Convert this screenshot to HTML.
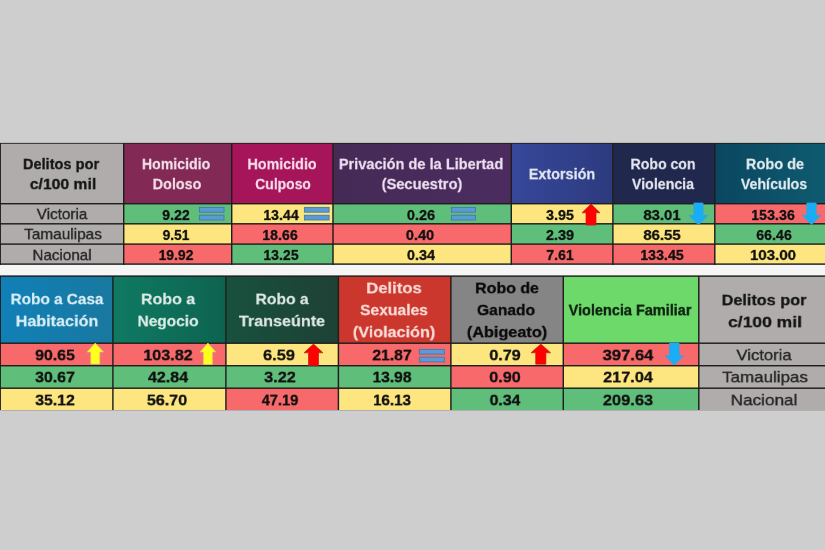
<!DOCTYPE html><html><head><meta charset="utf-8"><title>Delitos por c/100 mil</title><style>
html,body{margin:0;padding:0}
body{width:825px;height:550px;background:#cecece;position:relative;overflow:hidden;font-family:"Liberation Sans",sans-serif}
.r,.l,.t,.i{position:absolute}
.l{background:#2e2c2c}
.t{white-space:nowrap;line-height:1;will-change:transform;font-size:20px}
.b{font-weight:bold;-webkit-text-stroke:0.27px currentColor}
.g{-webkit-text-stroke:0.45px currentColor}
.k{-webkit-text-stroke:0.4px currentColor}
.gap{background:#f6f6f6}
</style></head><body>
<div class="r gap" style="left:0;top:264px;width:825px;height:13px"></div>
<div class="r" style="left:0.00px;top:143.40px;width:123.70px;height:60.30px;background:#b0acac"></div>
<div class="t b k" id="t0" style="left:61.36px;top:163.91px;color:#161616;transform:translate(-50%,-50%) scale(0.7297,0.7456)">Delitos por</div>
<div class="t b k" id="t1" style="left:63.30px;top:183.70px;color:#161616;transform:translate(-50%,-50%) scale(0.7861,0.7456)">c/100 mil</div>
<div class="r" style="left:123.70px;top:143.40px;width:108.00px;height:60.30px;background:#832955"></div>
<div class="t b" id="t2" style="left:176.36px;top:163.53px;color:#f3dfea;transform:translate(-50%,-50%) scale(0.7067,0.7456)">Homicidio</div>
<div class="t b" id="t3" style="left:177.41px;top:183.70px;color:#f3dfea;transform:translate(-50%,-50%) scale(0.7187,0.7456)">Doloso</div>
<div class="r" style="left:231.70px;top:143.40px;width:101.30px;height:60.30px;background:#a6145a"></div>
<div class="t b" id="t4" style="left:281.82px;top:163.53px;color:#f6dcea;transform:translate(-50%,-50%) scale(0.7150,0.7456)">Homicidio</div>
<div class="t b" id="t5" style="left:282.55px;top:183.70px;color:#f6dcea;transform:translate(-50%,-50%) scale(0.6969,0.7456)">Culposo</div>
<div class="r" style="left:333.00px;top:143.40px;width:178.30px;height:60.30px;background:linear-gradient(90deg,#452a56,#4c2c60)"></div>
<div class="t b" id="t6" style="left:421.41px;top:163.53px;color:#ecdff0;transform:translate(-50%,-50%) scale(0.7285,0.7456)">Privación de la Libertad</div>
<div class="t b" id="t7" style="left:421.71px;top:183.70px;color:#ecdff0;transform:translate(-50%,-50%) scale(0.7338,0.7456)">(Secuestro)</div>
<div class="r" style="left:511.30px;top:143.40px;width:101.60px;height:60.30px;background:linear-gradient(90deg,#37479a,#2c3b7e)"></div>
<div class="t b" id="t8" style="left:562.46px;top:174.45px;color:#e4e8f4;transform:translate(-50%,-50%) scale(0.7209,0.7456)">Extorsión</div>
<div class="r" style="left:612.90px;top:143.40px;width:101.90px;height:60.30px;background:#20284e"></div>
<div class="t b" id="t9" style="left:663.49px;top:163.53px;color:#e4e6ee;transform:translate(-50%,-50%) scale(0.7044,0.7456)">Robo con</div>
<div class="t b" id="t10" style="left:663.36px;top:183.70px;color:#e4e6ee;transform:translate(-50%,-50%) scale(0.7115,0.7456)">Violencia</div>
<div class="r" style="left:714.80px;top:143.40px;width:111.20px;height:60.30px;background:linear-gradient(90deg,#0b4660 0%,#0e5b70 100%)"></div>
<div class="t b" id="t11" style="left:775.08px;top:163.53px;color:#e0ecef;transform:translate(-50%,-50%) scale(0.7296,0.7456)">Robo de</div>
<div class="t b" id="t12" style="left:774.36px;top:183.70px;color:#e0ecef;transform:translate(-50%,-50%) scale(0.7106,0.7456)">Vehículos</div>
<div class="r" style="left:0.00px;top:203.70px;width:123.70px;height:20.10px;background:#b0acac"></div>
<div class="t g" id="t13" style="left:62.10px;top:214.28px;color:#242424;transform:translate(-50%,-50%) scale(0.7630,0.7464)">Victoria</div>
<div class="r" style="left:123.70px;top:203.70px;width:108.00px;height:20.10px;background:#60be7b"></div>
<div class="t b k" id="t14" style="left:175.54px;top:214.52px;color:#101010;transform:translate(-50%,-50%) scale(0.7112,0.6998)">9.22</div>
<div class="r" style="left:231.70px;top:203.70px;width:101.30px;height:20.10px;background:#fde67f"></div>
<div class="t b k" id="t15" style="left:280.67px;top:214.52px;color:#101010;transform:translate(-50%,-50%) scale(0.7079,0.6998)">13.44</div>
<div class="r" style="left:333.00px;top:203.70px;width:178.30px;height:20.10px;background:#60be7b"></div>
<div class="t b k" id="t16" style="left:420.53px;top:214.52px;color:#101010;transform:translate(-50%,-50%) scale(0.7261,0.6998)">0.26</div>
<div class="r" style="left:511.30px;top:203.70px;width:101.60px;height:20.10px;background:#fde67f"></div>
<div class="t b k" id="t17" style="left:560.18px;top:214.52px;color:#101010;transform:translate(-50%,-50%) scale(0.7177,0.6998)">3.95</div>
<div class="r" style="left:612.90px;top:203.70px;width:101.90px;height:20.10px;background:#60be7b"></div>
<div class="t b k" id="t18" style="left:662.00px;top:214.52px;color:#101010;transform:translate(-50%,-50%) scale(0.7422,0.6998)">83.01</div>
<div class="r" style="left:714.80px;top:203.70px;width:111.20px;height:20.10px;background:#f8696b"></div>
<div class="t b k" id="t19" style="left:773.35px;top:214.52px;color:#101010;transform:translate(-50%,-50%) scale(0.7157,0.6998)">153.36</div>
<div class="r" style="left:0.00px;top:223.80px;width:123.70px;height:20.30px;background:#b0acac"></div>
<div class="t g" id="t20" style="left:62.72px;top:234.49px;color:#242424;transform:translate(-50%,-50%) scale(0.7679,0.7461)">Tamaulipas</div>
<div class="r" style="left:123.70px;top:223.80px;width:108.00px;height:20.30px;background:#fde67f"></div>
<div class="t b k" id="t21" style="left:176.39px;top:234.73px;color:#101010;transform:translate(-50%,-50%) scale(0.6846,0.6998)">9.51</div>
<div class="r" style="left:231.70px;top:223.80px;width:101.30px;height:20.30px;background:#f8696b"></div>
<div class="t b k" id="t22" style="left:280.31px;top:234.73px;color:#101010;transform:translate(-50%,-50%) scale(0.7067,0.6998)">18.66</div>
<div class="r" style="left:333.00px;top:223.80px;width:178.30px;height:20.30px;background:#f8696b"></div>
<div class="t b k" id="t23" style="left:420.23px;top:234.73px;color:#101010;transform:translate(-50%,-50%) scale(0.7287,0.6998)">0.40</div>
<div class="r" style="left:511.30px;top:223.80px;width:101.60px;height:20.30px;background:#60be7b"></div>
<div class="t b k" id="t24" style="left:560.33px;top:234.73px;color:#101010;transform:translate(-50%,-50%) scale(0.7243,0.6998)">2.39</div>
<div class="r" style="left:612.90px;top:223.80px;width:101.90px;height:20.30px;background:#fde67f"></div>
<div class="t b k" id="t25" style="left:662.14px;top:234.73px;color:#101010;transform:translate(-50%,-50%) scale(0.7436,0.6998)">86.55</div>
<div class="r" style="left:714.80px;top:223.80px;width:111.20px;height:20.30px;background:#60be7b"></div>
<div class="t b k" id="t26" style="left:773.62px;top:234.73px;color:#101010;transform:translate(-50%,-50%) scale(0.7101,0.6998)">66.46</div>
<div class="r" style="left:0.00px;top:244.10px;width:123.70px;height:20.00px;background:#b0acac"></div>
<div class="t g" id="t27" style="left:62.25px;top:254.57px;color:#242424;transform:translate(-50%,-50%) scale(0.7589,0.7468)">Nacional</div>
<div class="r" style="left:123.70px;top:244.10px;width:108.00px;height:20.00px;background:#f8696b"></div>
<div class="t b k" id="t28" style="left:176.44px;top:254.94px;color:#101010;transform:translate(-50%,-50%) scale(0.6927,0.6998)">19.92</div>
<div class="r" style="left:231.70px;top:244.10px;width:101.30px;height:20.00px;background:#60be7b"></div>
<div class="t b k" id="t29" style="left:280.74px;top:254.94px;color:#101010;transform:translate(-50%,-50%) scale(0.7036,0.6998)">13.25</div>
<div class="r" style="left:333.00px;top:244.10px;width:178.30px;height:20.00px;background:#fde67f"></div>
<div class="t b k" id="t30" style="left:420.58px;top:254.94px;color:#101010;transform:translate(-50%,-50%) scale(0.7238,0.6998)">0.34</div>
<div class="r" style="left:511.30px;top:244.10px;width:101.60px;height:20.00px;background:#f8696b"></div>
<div class="t b k" id="t31" style="left:560.40px;top:254.94px;color:#101010;transform:translate(-50%,-50%) scale(0.7025,0.6998)">7.61</div>
<div class="r" style="left:612.90px;top:244.10px;width:101.90px;height:20.00px;background:#f8696b"></div>
<div class="t b k" id="t32" style="left:662.15px;top:254.94px;color:#101010;transform:translate(-50%,-50%) scale(0.7102,0.6998)">133.45</div>
<div class="r" style="left:714.80px;top:244.10px;width:111.20px;height:20.00px;background:#fde67f"></div>
<div class="t b k" id="t33" style="left:773.45px;top:254.94px;color:#101010;transform:translate(-50%,-50%) scale(0.7530,0.6998)">103.00</div>
<div class="r" style="left:0.00px;top:276.10px;width:112.90px;height:67.10px;background:linear-gradient(90deg,#1080b8,#19789f)"></div>
<div class="t b" id="t34" style="left:56.60px;top:299.10px;color:#d8eef6;transform:translate(-50%,-50%) scale(0.7668,0.7493)">Robo a Casa</div>
<div class="t b" id="t35" style="left:56.50px;top:321.15px;color:#d8eef6;transform:translate(-50%,-50%) scale(0.8090,0.7493)">Habitación</div>
<div class="r" style="left:112.90px;top:276.10px;width:113.00px;height:67.10px;background:linear-gradient(90deg,#0f7a62,#0d6350)"></div>
<div class="t b" id="t36" style="left:168.47px;top:299.10px;color:#dcece6;transform:translate(-50%,-50%) scale(0.7989,0.7493)">Robo a</div>
<div class="t b" id="t37" style="left:168.13px;top:321.15px;color:#dcece6;transform:translate(-50%,-50%) scale(0.7719,0.7493)">Negocio</div>
<div class="r" style="left:225.90px;top:276.10px;width:112.50px;height:67.10px;background:linear-gradient(90deg,#18513d,#1e4135)"></div>
<div class="t b" id="t38" style="left:281.73px;top:299.10px;color:#dde8e3;transform:translate(-50%,-50%) scale(0.7825,0.7493)">Robo a</div>
<div class="t b" id="t39" style="left:282.29px;top:321.15px;color:#dde8e3;transform:translate(-50%,-50%) scale(0.8075,0.7493)">Transeúnte</div>
<div class="r" style="left:338.40px;top:276.10px;width:112.50px;height:67.10px;background:#cb372c"></div>
<div class="t b" id="t40" style="left:394.22px;top:287.90px;color:#f8dcd8;transform:translate(-50%,-50%) scale(0.8353,0.7493)">Delitos</div>
<div class="t b" id="t41" style="left:394.46px;top:310.23px;color:#f8dcd8;transform:translate(-50%,-50%) scale(0.7831,0.7493)">Sexuales</div>
<div class="t b" id="t42" style="left:393.63px;top:331.73px;color:#f8dcd8;transform:translate(-50%,-50%) scale(0.8098,0.7493)">(Violación)</div>
<div class="r" style="left:450.90px;top:276.10px;width:112.40px;height:67.10px;background:#868585"></div>
<div class="t b k" id="t43" style="left:506.67px;top:287.90px;color:#0a0a0a;transform:translate(-50%,-50%) scale(0.7999,0.7493)">Robo de</div>
<div class="t b k" id="t44" style="left:506.30px;top:310.23px;color:#0a0a0a;transform:translate(-50%,-50%) scale(0.7807,0.7493)">Ganado</div>
<div class="t b k" id="t45" style="left:506.60px;top:331.73px;color:#0a0a0a;transform:translate(-50%,-50%) scale(0.8127,0.7493)">(Abigeato)</div>
<div class="r" style="left:563.30px;top:276.10px;width:135.50px;height:67.10px;background:#6dd96a"></div>
<div class="t b k" id="t46" style="left:630.11px;top:310.44px;color:#0c2010;transform:translate(-50%,-50%) scale(0.7233,0.7591)">Violencia Familiar</div>
<div class="r" style="left:698.80px;top:276.10px;width:127.20px;height:67.10px;background:#b0acac"></div>
<div class="t b k" id="t47" style="left:763.61px;top:300.10px;color:#161616;transform:translate(-50%,-50%) scale(0.8119,0.7493)">Delitos por</div>
<div class="t b k" id="t48" style="left:764.64px;top:322.31px;color:#161616;transform:translate(-50%,-50%) scale(0.8743,0.7493)">c/100 mil</div>
<div class="r" style="left:698.80px;top:343.20px;width:127.20px;height:22.50px;background:#b0acac"></div>
<div class="t g" id="t49" style="left:764.02px;top:354.61px;color:#242424;transform:translate(-50%,-50%) scale(0.8327,0.7561)">Victoria</div>
<div class="r" style="left:0.00px;top:343.20px;width:112.90px;height:22.50px;background:#f8696b"></div>
<div class="t b k" id="t50" style="left:55.48px;top:355.40px;color:#101010;transform:translate(-50%,-50%) scale(0.7917,0.7581)">90.65</div>
<div class="r" style="left:112.90px;top:343.20px;width:113.00px;height:22.50px;background:#f8696b"></div>
<div class="t b k" id="t51" style="left:167.52px;top:355.40px;color:#101010;transform:translate(-50%,-50%) scale(0.8055,0.7581)">103.82</div>
<div class="r" style="left:225.90px;top:343.20px;width:112.50px;height:22.50px;background:#fde67f"></div>
<div class="t b k" id="t52" style="left:279.31px;top:355.40px;color:#101010;transform:translate(-50%,-50%) scale(0.8220,0.7581)">6.59</div>
<div class="r" style="left:338.40px;top:343.20px;width:112.50px;height:22.50px;background:#f8696b"></div>
<div class="t b k" id="t53" style="left:392.37px;top:355.40px;color:#101010;transform:translate(-50%,-50%) scale(0.7844,0.7581)">21.87</div>
<div class="r" style="left:450.90px;top:343.20px;width:112.40px;height:22.50px;background:#fde67f"></div>
<div class="t b k" id="t54" style="left:504.60px;top:355.40px;color:#101010;transform:translate(-50%,-50%) scale(0.8025,0.7581)">0.79</div>
<div class="r" style="left:563.30px;top:343.20px;width:135.50px;height:22.50px;background:#f8696b"></div>
<div class="t b k" id="t55" style="left:628.32px;top:355.40px;color:#101010;transform:translate(-50%,-50%) scale(0.8289,0.7581)">397.64</div>
<div class="r" style="left:698.80px;top:365.70px;width:127.20px;height:22.50px;background:#b0acac"></div>
<div class="t g" id="t56" style="left:765.48px;top:377.34px;color:#242424;transform:translate(-50%,-50%) scale(0.8463,0.7548)">Tamaulipas</div>
<div class="r" style="left:0.00px;top:365.70px;width:112.90px;height:22.50px;background:#60be7b"></div>
<div class="t b k" id="t57" style="left:54.78px;top:377.44px;color:#101010;transform:translate(-50%,-50%) scale(0.7932,0.7581)">30.67</div>
<div class="r" style="left:112.90px;top:365.70px;width:113.00px;height:22.50px;background:#60be7b"></div>
<div class="t b k" id="t58" style="left:167.79px;top:377.44px;color:#101010;transform:translate(-50%,-50%) scale(0.8037,0.7581)">42.84</div>
<div class="r" style="left:225.90px;top:365.70px;width:112.50px;height:22.50px;background:#60be7b"></div>
<div class="t b k" id="t59" style="left:279.59px;top:377.44px;color:#101010;transform:translate(-50%,-50%) scale(0.8166,0.7581)">3.22</div>
<div class="r" style="left:338.40px;top:365.70px;width:112.50px;height:22.50px;background:#60be7b"></div>
<div class="t b k" id="t60" style="left:392.19px;top:377.44px;color:#101010;transform:translate(-50%,-50%) scale(0.7764,0.7581)">13.98</div>
<div class="r" style="left:450.90px;top:365.70px;width:112.40px;height:22.50px;background:#f8696b"></div>
<div class="t b k" id="t61" style="left:504.92px;top:377.44px;color:#101010;transform:translate(-50%,-50%) scale(0.8088,0.7581)">0.90</div>
<div class="r" style="left:563.30px;top:365.70px;width:135.50px;height:22.50px;background:#fde67f"></div>
<div class="t b k" id="t62" style="left:628.16px;top:377.44px;color:#101010;transform:translate(-50%,-50%) scale(0.8116,0.7581)">217.04</div>
<div class="r" style="left:698.80px;top:388.20px;width:127.20px;height:21.80px;background:#b0acac"></div>
<div class="t g" id="t63" style="left:764.44px;top:399.59px;color:#242424;transform:translate(-50%,-50%) scale(0.8559,0.7541)">Nacional</div>
<div class="r" style="left:0.00px;top:388.20px;width:112.90px;height:21.80px;background:#fde67f"></div>
<div class="t b k" id="t64" style="left:54.51px;top:400.23px;color:#101010;transform:translate(-50%,-50%) scale(0.7864,0.7581)">35.12</div>
<div class="r" style="left:112.90px;top:388.20px;width:113.00px;height:21.80px;background:#fde67f"></div>
<div class="t b k" id="t65" style="left:166.93px;top:400.23px;color:#101010;transform:translate(-50%,-50%) scale(0.8040,0.7581)">56.70</div>
<div class="r" style="left:225.90px;top:388.20px;width:112.50px;height:21.80px;background:#f8696b"></div>
<div class="t b k" id="t66" style="left:279.92px;top:400.23px;color:#101010;transform:translate(-50%,-50%) scale(0.7300,0.7581)">47.19</div>
<div class="r" style="left:338.40px;top:388.20px;width:112.50px;height:21.80px;background:#fde67f"></div>
<div class="t b k" id="t67" style="left:391.66px;top:400.23px;color:#101010;transform:translate(-50%,-50%) scale(0.7558,0.7581)">16.13</div>
<div class="r" style="left:450.90px;top:388.20px;width:112.40px;height:21.80px;background:#60be7b"></div>
<div class="t b k" id="t68" style="left:504.66px;top:400.23px;color:#101010;transform:translate(-50%,-50%) scale(0.7903,0.7581)">0.34</div>
<div class="r" style="left:563.30px;top:388.20px;width:135.50px;height:21.80px;background:#60be7b"></div>
<div class="t b k" id="t69" style="left:628.49px;top:400.23px;color:#101010;transform:translate(-50%,-50%) scale(0.8218,0.7581)">209.63</div>
<div class="l" style="left:0px;top:142px;width:825px;height:1px;background:rgba(30,30,28,0.12)"></div>
<div class="l" style="left:0px;top:143px;width:825px;height:1px;background:rgba(30,30,28,0.76)"></div>
<div class="l" style="left:0px;top:203px;width:825px;height:1px;background:rgba(30,30,28,1.00)"></div>
<div class="l" style="left:0px;top:204px;width:825px;height:1px;background:rgba(30,30,28,0.42)"></div>
<div class="l" style="left:0px;top:223px;width:825px;height:1px;background:rgba(30,30,28,0.92)"></div>
<div class="l" style="left:0px;top:224px;width:825px;height:1px;background:rgba(30,30,28,0.53)"></div>
<div class="l" style="left:0px;top:243px;width:825px;height:1px;background:rgba(30,30,28,0.62)"></div>
<div class="l" style="left:0px;top:244px;width:825px;height:1px;background:rgba(30,30,28,0.82)"></div>
<div class="l" style="left:0px;top:263px;width:825px;height:1px;background:rgba(30,30,28,0.62)"></div>
<div class="l" style="left:0px;top:264px;width:825px;height:1px;background:rgba(30,30,28,0.83)"></div>
<div class="l" style="left:0px;top:143px;width:1px;height:122px;background:rgba(24,26,22,.9)"></div>
<div class="l" style="left:123px;top:143px;width:1px;height:122px;background:rgba(30,30,28,1.00)"></div>
<div class="l" style="left:124px;top:143px;width:1px;height:122px;background:rgba(30,30,28,0.42)"></div>
<div class="l" style="left:231px;top:143px;width:1px;height:122px;background:rgba(30,30,28,1.00)"></div>
<div class="l" style="left:232px;top:143px;width:1px;height:122px;background:rgba(30,30,28,0.42)"></div>
<div class="l" style="left:332px;top:143px;width:1px;height:122px;background:rgba(30,30,28,0.73)"></div>
<div class="l" style="left:333px;top:143px;width:1px;height:122px;background:rgba(30,30,28,0.73)"></div>
<div class="l" style="left:510px;top:143px;width:1px;height:122px;background:rgba(30,30,28,0.43)"></div>
<div class="l" style="left:511px;top:143px;width:1px;height:122px;background:rgba(30,30,28,1.00)"></div>
<div class="l" style="left:612px;top:143px;width:1px;height:122px;background:rgba(30,30,28,0.83)"></div>
<div class="l" style="left:613px;top:143px;width:1px;height:122px;background:rgba(30,30,28,0.62)"></div>
<div class="l" style="left:714px;top:143px;width:1px;height:122px;background:rgba(30,30,28,0.93)"></div>
<div class="l" style="left:715px;top:143px;width:1px;height:122px;background:rgba(30,30,28,0.52)"></div>
<div class="l" style="left:0px;top:275px;width:825px;height:1px;background:rgba(30,30,28,0.62)"></div>
<div class="l" style="left:0px;top:276px;width:825px;height:1px;background:rgba(30,30,28,0.83)"></div>
<div class="l" style="left:0px;top:342px;width:825px;height:1px;background:rgba(30,30,28,0.53)"></div>
<div class="l" style="left:0px;top:343px;width:825px;height:1px;background:rgba(30,30,28,0.93)"></div>
<div class="l" style="left:0px;top:365px;width:825px;height:1px;background:rgba(30,30,28,1.00)"></div>
<div class="l" style="left:0px;top:366px;width:825px;height:1px;background:rgba(30,30,28,0.43)"></div>
<div class="l" style="left:0px;top:387px;width:825px;height:1px;background:rgba(30,30,28,0.53)"></div>
<div class="l" style="left:0px;top:388px;width:825px;height:1px;background:rgba(30,30,28,0.93)"></div>
<div class="l" style="left:0px;top:276px;width:1px;height:134px;background:rgba(24,26,22,.9)"></div>
<div class="l" style="left:112px;top:276px;width:1px;height:134px;background:rgba(30,30,28,0.82)"></div>
<div class="l" style="left:113px;top:276px;width:1px;height:134px;background:rgba(30,30,28,0.62)"></div>
<div class="l" style="left:225px;top:276px;width:1px;height:134px;background:rgba(30,30,28,0.82)"></div>
<div class="l" style="left:226px;top:276px;width:1px;height:134px;background:rgba(30,30,28,0.62)"></div>
<div class="l" style="left:337px;top:276px;width:1px;height:134px;background:rgba(30,30,28,0.33)"></div>
<div class="l" style="left:338px;top:276px;width:1px;height:134px;background:rgba(30,30,28,1.00)"></div>
<div class="l" style="left:339px;top:276px;width:1px;height:134px;background:rgba(30,30,28,0.12)"></div>
<div class="l" style="left:450px;top:276px;width:1px;height:134px;background:rgba(30,30,28,0.83)"></div>
<div class="l" style="left:451px;top:276px;width:1px;height:134px;background:rgba(30,30,28,0.62)"></div>
<div class="l" style="left:562px;top:276px;width:1px;height:134px;background:rgba(30,30,28,0.43)"></div>
<div class="l" style="left:563px;top:276px;width:1px;height:134px;background:rgba(30,30,28,1.00)"></div>
<div class="l" style="left:698px;top:276px;width:1px;height:134px;background:rgba(30,30,28,0.93)"></div>
<div class="l" style="left:699px;top:276px;width:1px;height:134px;background:rgba(30,30,28,0.52)"></div>
<div class="l" style="left:0px;top:410px;width:825px;height:1px;background:rgba(90,90,90,.25)"></div>
<svg class="i" style="left:198.40px;top:206.30px" width="27.40" height="15.40"><rect x="1.4" y="1.4" width="24.60" height="4.80" fill="#5b9bd5" stroke="#4479a8" stroke-width="0.9"/><rect x="1.4" y="9.20" width="24.60" height="4.80" fill="#5b9bd5" stroke="#4479a8" stroke-width="0.9"/></svg>
<svg class="i" style="left:303.30px;top:206.30px" width="27.50" height="15.40"><rect x="1.4" y="1.4" width="24.70" height="4.80" fill="#5b9bd5" stroke="#4479a8" stroke-width="0.9"/><rect x="1.4" y="9.20" width="24.70" height="4.80" fill="#5b9bd5" stroke="#4479a8" stroke-width="0.9"/></svg>
<svg class="i" style="left:449.90px;top:206.30px" width="26.90" height="15.40"><rect x="1.4" y="1.4" width="24.10" height="4.80" fill="#5b9bd5" stroke="#4479a8" stroke-width="0.9"/><rect x="1.4" y="9.20" width="24.10" height="4.80" fill="#5b9bd5" stroke="#4479a8" stroke-width="0.9"/></svg>
<svg class="i" style="left:580.90px;top:203.10px" width="20" height="23.10"><polygon points="10.00,1.00 19.00,9.80 15.00,9.80 15.00,22.10 5.00,22.10 5.00,9.80 1.00,9.80" fill="#ff0000" stroke="#c02020" stroke-width="0.7"/></svg>
<svg class="i" style="left:687.50px;top:201.60px" width="21" height="23.90"><polygon points="5.90,1.00 15.10,1.00 15.10,13.40 20.00,13.40 10.50,22.90 1.00,13.40 5.90,13.40" fill="#17adf7" stroke="#35a3dc" stroke-width="0.7"/></svg>
<svg class="i" style="left:800.90px;top:201.60px" width="21" height="23.70"><polygon points="5.80,1.00 15.20,1.00 15.20,13.20 20.00,13.20 10.50,22.70 1.00,13.20 5.80,13.20" fill="#17adf7" stroke="#35a3dc" stroke-width="0.7"/></svg>
<svg class="i" style="left:85.85px;top:342.00px" width="18.5" height="23.10"><polygon points="9.25,1.00 17.50,10.00 13.75,10.00 13.75,22.10 4.75,22.10 4.75,10.00 1.00,10.00" fill="#ffff1e" stroke="#d8c878" stroke-width="0.7"/></svg>
<svg class="i" style="left:199.30px;top:341.90px" width="17.8" height="23.50"><polygon points="8.90,1.00 16.80,10.00 13.40,10.00 13.40,22.50 4.40,22.50 4.40,10.00 1.00,10.00" fill="#ffff1e" stroke="#d8c878" stroke-width="0.7"/></svg>
<svg class="i" style="left:302.80px;top:342.90px" width="21" height="23.60"><polygon points="10.50,1.00 20.00,9.80 15.50,9.80 15.50,22.60 5.50,22.60 5.50,9.80 1.00,9.80" fill="#ff0000" stroke="#c02020" stroke-width="0.7"/></svg>
<svg class="i" style="left:417.50px;top:347.60px" width="27.80" height="15.30"><rect x="1.4" y="1.4" width="25.00" height="4.75" fill="#5b9bd5" stroke="#4479a8" stroke-width="0.9"/><rect x="1.4" y="9.15" width="25.00" height="4.75" fill="#5b9bd5" stroke="#4479a8" stroke-width="0.9"/></svg>
<svg class="i" style="left:530.10px;top:342.50px" width="21.6" height="22.20"><polygon points="10.80,1.00 20.60,9.80 15.90,9.80 15.90,21.20 5.70,21.20 5.70,9.80 1.00,9.80" fill="#ff0000" stroke="#c02020" stroke-width="0.7"/></svg>
<svg class="i" style="left:663.60px;top:342.30px" width="20.6" height="24.10"><polygon points="5.55,1.00 15.05,1.00 15.05,13.60 19.60,13.60 10.30,23.10 1.00,13.60 5.55,13.60" fill="#17adf7" stroke="#35a3dc" stroke-width="0.7"/></svg>
</body></html>
